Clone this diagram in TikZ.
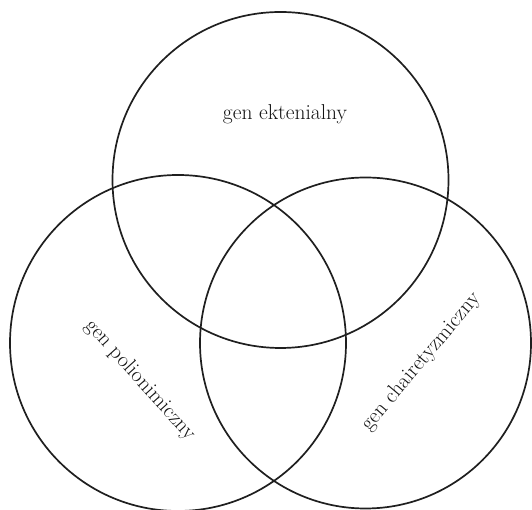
\documentclass[tikz,border=0pt]{standalone}
\begin{document}
\begin{tikzpicture}[x=1pt,y=1pt,
  setring/.style={circle, draw=black!88, line width=1.7pt, inner sep=0pt, minimum size=#1},
  setlabel/.style={text=black!92, font=\fontsize{21.5}{24}\selectfont, inner sep=0pt}]
\useasboundingbox (0,0) rectangle (532,510);
% the three overlapping sets
\node[setring=336pt] (ekt) at (280.5,330) {};
\node[setring=336pt] (pol) at (178,167) {};
\node[setring=331pt] (cha) at (365.5,167) {};
% set names
\node[setlabel] (lekt) at (285,396) {gen ektenialny};
\node[setlabel, rotate=-48] (lpol) at (140,130) {gen polionimiczny};
\node[setlabel, rotate=50] (lcha) at (421,148) {gen chairetyzmiczny};
\end{tikzpicture}
\end{document}
